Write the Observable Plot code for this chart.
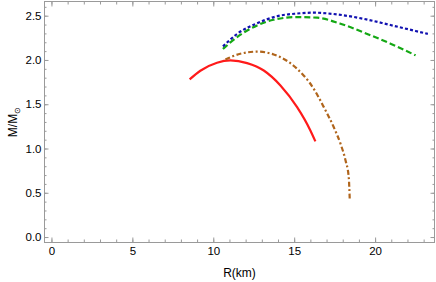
<!DOCTYPE html>
<html><head><meta charset="utf-8">
<script src="https://cdn.jsdelivr.net/npm/d3@7"></script>
<script src="https://cdn.jsdelivr.net/npm/@observablehq/plot@0.6"></script>
<style>body{margin:0;background:#fff;} svg{display:block;}</style>
</head><body><div id="chart"></div>
<script>
// Series (R in km, M in solar masses)
const redR = [8.51, 9.17, 10.2, 11.03, 12.06, 13.09, 14.12, 15.15, 15.97, 16.28];
const redM = [1.786, 1.884, 1.975, 2.0, 1.97, 1.887, 1.718, 1.473, 1.21, 1.086];

const brownR = [10.72, 11.64, 12.68, 13.7, 14.12, 15.15, 16.18, 16.80, 17.41, 17.83, 18.14, 18.34, 18.40];
const brownM = [2.01, 2.076, 2.10, 2.068, 2.037, 1.906, 1.68, 1.473, 1.248, 1.06, 0.872, 0.684, 0.44];

const greenR = [10.57, 11.44, 12.68, 13.7, 15.15, 16.39, 17.83, 19.48, 20.92, 22.47];
const greenM = [2.13, 2.264, 2.396, 2.46, 2.49, 2.483, 2.415, 2.30, 2.19, 2.058];

const blueR = [10.57, 11.44, 12.68, 13.91, 15.15, 16.18, 17.62, 19.27, 20.92, 23.23];
const blueM = [2.159, 2.30, 2.42, 2.50, 2.53, 2.54, 2.52, 2.47, 2.40, 2.30];

const xTicks = [0, 5, 10, 15, 20];
const yTicks = [0, 0.5, 1.0, 1.5, 2.0, 2.5];
const yTickLabels = ["0.0", "0.5", "1.0", "1.5", "2.0", "2.5"];
const xMinor = d3.range(0, 24, 1);
const yMinor = d3.range(0, 27, 1).map(d => d / 10);

const toRows = (R, M) => R.map((r, i) => ({R: r, M: M[i]}));
const series = [
  {rows: toRows(redR, redM), stroke: "#ff1a1a", dash: "none"},
  {rows: toRows(brownR, brownM), stroke: "#b0651c", dash: "5,2.5,2,2.5"},
  {rows: toRows(greenR, greenM), stroke: "#14a814", dash: "6,3"},
  {rows: toRows(blueR, blueM), stroke: "#1010b0", dash: "3,2.2"}
];

const frameColor = "#9a9a9a";
const chart = Plot.plot({
  width: 436,
  height: 282,
  marginLeft: 44,
  marginRight: 2,
  marginTop: 1,
  marginBottom: 40,
  style: {fontFamily: "'Liberation Sans', Arial, sans-serif", fontSize: "11px", color: "#000", background: "#fff"},
  x: {domain: [-0.46, 23.64]},
  y: {domain: [-0.056, 2.666]},
  marks: [
    Plot.frame({stroke: frameColor}),
    // minor ticks (inward)
    Plot.axisX(xMinor, {anchor: "bottom", tickSize: -2.5, text: null, label: null, stroke: frameColor}),
    Plot.axisX(xMinor, {anchor: "top", tickSize: -2.5, text: null, label: null, stroke: frameColor}),
    Plot.axisY(yMinor, {anchor: "left", tickSize: -2.5, text: null, label: null, stroke: frameColor}),
    Plot.axisY(yMinor, {anchor: "right", tickSize: -2.5, text: null, label: null, stroke: frameColor}),
    // major ticks (inward)
    Plot.axisX(xTicks, {anchor: "bottom", tickSize: -4.5, text: null, label: null, stroke: frameColor}),
    Plot.axisX(xTicks, {anchor: "top", tickSize: -4.5, text: null, label: null, stroke: frameColor}),
    Plot.axisY(yTicks, {anchor: "left", tickSize: -4.5, text: null, label: null, stroke: frameColor}),
    Plot.axisY(yTicks, {anchor: "right", tickSize: -4.5, text: null, label: null, stroke: frameColor}),
    // labels
    Plot.axisX(xTicks, {anchor: "bottom", tickSize: 0, tickPadding: 4, label: "R(km)", labelAnchor: "center", labelOffset: 34, labelArrow: "none", fontSize: 11.5}),
    Plot.axisY(yTicks, {anchor: "left", tickSize: 0, tickPadding: 3, tickFormat: (d, i) => yTickLabels[i], label: "M/M", labelAnchor: "center", labelOffset: 36, labelArrow: "none", fontSize: 11.5}),
    ...series.map(s => Plot.line(s.rows, {x: "R", y: "M", stroke: s.stroke, strokeWidth: 2.2, strokeDasharray: s.dash, strokeLinecap: "butt", curve: "monotone-x"}))
  ]
});

// add subscript sun symbol to y label
const ylab = d3.select(chart).select('g[aria-label="y-axis label"] text');
if (!ylab.empty()) {
  ylab.text("M/M");
  ylab.append("tspan").attr("dy", "0.35em").attr("font-size", "8px").text("\u2299");
}
d3.select(chart).selectAll('g[aria-label="x-axis label"] text').attr("font-size", 12);
d3.select(chart).selectAll('g[aria-label="y-axis label"] text').attr("font-size", 12);
document.getElementById("chart").appendChild(chart);
</script>
</body></html>
